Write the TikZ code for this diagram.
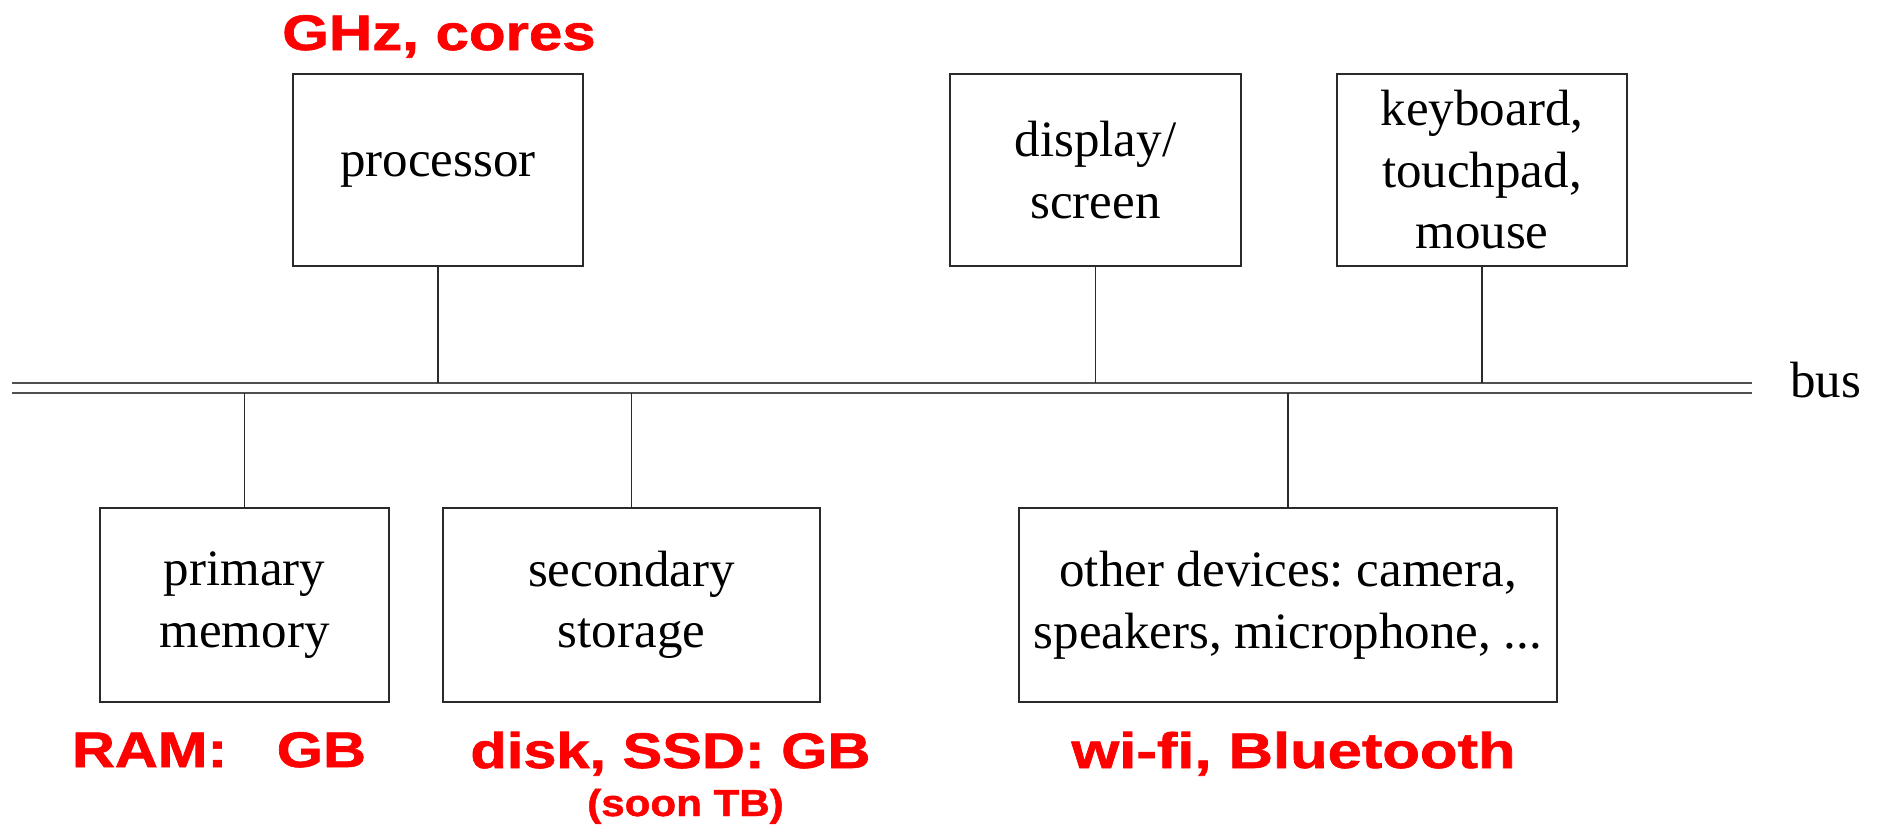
\documentclass[tikz,border=0pt]{standalone}
\usepackage{fontspec}
\setmainfont{Liberation Serif}
\newfontfamily\notefont{Liberation Sans}[BoldFeatures={FakeBold=1.2}]
\definecolor{linegray}{HTML}{2A2A2A}
\definecolor{busgray}{HTML}{505050}
\definecolor{notered}{HTML}{FF0000}
\frenchspacing
\begin{document}
\begin{tikzpicture}[x=0.5pt,y=-0.5pt,
  unitbox/.style={draw=linegray, line width=1pt, align=center, inner sep=0pt,
    font=\fontsize{25.5}{30.75}\selectfont},
  link/.style={draw=linegray, line width=0.8pt},
  busline/.style={draw=busgray, line width=1.4pt},
  note/.style={text=notered, inner sep=0pt, anchor=base,
    font=\notefont\bfseries\fontsize{25}{30}\selectfont},
  smallnote/.style={note, font=\notefont\bfseries\fontsize{18.8}{22}\selectfont}
]
\useasboundingbox (0,0) rectangle (1879,825);

% units attached to the bus
\node[unitbox, minimum width=145pt, minimum height=96pt] (proc) at (438,170) {processor};
\node[unitbox, minimum width=145.5pt, minimum height=96pt] (disp) at (1095.5,170) {display/\\screen};
\node[unitbox, minimum width=145pt, minimum height=96pt] (keys) at (1482,170) {keyboard,\\touchpad,\\mouse};
\node[unitbox, minimum width=144.5pt, minimum height=97pt] (prim) at (244.5,605) {primary\\memory};
\node[unitbox, minimum width=188.5pt, minimum height=97pt] (sec) at (631.5,605) {secondary\\storage};
\node[unitbox, minimum width=269pt, minimum height=97pt] (other) at (1288,605) {other devices: camera,\\speakers, microphone, ...};

% the bus: two parallel rails
\coordinate (busTopL) at (12,383);
\coordinate (busTopR) at (1752,383);
\coordinate (busBotL) at (12,393);
\coordinate (busBotR) at (1752,393);
\draw[busline] (busTopL) -- (busTopR);
\draw[busline] (busBotL) -- (busBotR);
\node[anchor=base west, inner sep=0pt, font=\fontsize{25.5}{30.75}\selectfont] (buslabel) at (1790,397) {bus};

% connections to the rails
\draw[link] (proc.south) -- (proc.south |- busTopL);
\draw[link] (disp.south) -- (disp.south |- busTopL);
\draw[link] (keys.south) -- (keys.south |- busTopL);
\draw[link] (prim.north) -- (prim.north |- busBotL);
\draw[link] (sec.north) -- (sec.north |- busBotL);
\draw[link] (other.north) -- (other.north |- busBotL);

% annotations
\node[note] (ghz) at (439,50) {\scalebox{1.2}[1]{GHz, cores}};
\node[note] (ram) at (219,767) {\scalebox{1.19}[1]{RAM:\ \ \ GB}};
\node[note] (disk) at (670.5,768) {\scalebox{1.19}[1]{disk, SSD: GB}};
\node[smallnote] (soon) at (685.5,816) {\scalebox{1.12}[1]{(soon TB)}};
\node[note] (wifi) at (1293.5,768) {\scalebox{1.23}[1]{wi-fi, Bluetooth}};
\end{tikzpicture}
\end{document}
